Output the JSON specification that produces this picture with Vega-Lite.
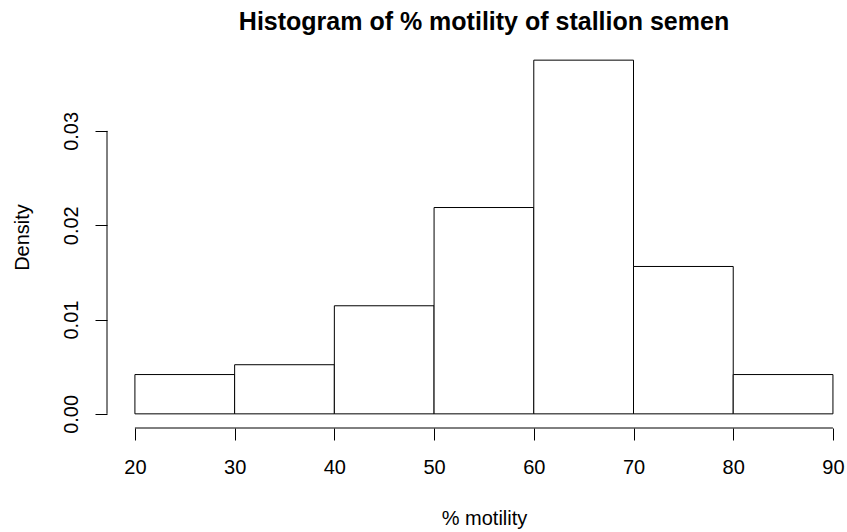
{
  "$schema": "https://vega.github.io/schema/vega-lite/v6.json",
  "width": 740,
  "height": 382,
  "autosize": "none",
  "padding": {"left": 107, "top": 46, "right": 0, "bottom": 104},
  "background": "white",
  "title": {
    "text": "Histogram of % motility of stallion semen",
    "font": "Liberation Sans",
    "fontSize": 25,
    "fontWeight": "bold",
    "color": "black",
    "anchor": "middle",
    "baseline": "alphabetic",
    "offset": -9,
    "dx": 7
  },
  "config": {
    "view": {"stroke": null},
    "font": "Liberation Sans",
    "axis": {"grid": false}
  },
  "layer": [
    {
      "data": {
        "values": [
          {"bin_start": 20, "bin_end": 30, "density": 0.0041667},
          {"bin_start": 30, "bin_end": 40, "density": 0.0052083},
          {"bin_start": 40, "bin_end": 50, "density": 0.0114583},
          {"bin_start": 50, "bin_end": 60, "density": 0.021875},
          {"bin_start": 60, "bin_end": 70, "density": 0.0375},
          {"bin_start": 70, "bin_end": 80, "density": 0.015625},
          {"bin_start": 80, "bin_end": 90, "density": 0.0041667}
        ]
      },
      "mark": {"type": "rect", "fill": "white", "stroke": "black", "strokeWidth": 1},
      "encoding": {
        "x": {
          "field": "bin_start",
          "type": "quantitative",
          "scale": {"domain": [17.2, 91.41], "nice": false, "zero": false},
          "axis": {
            "values": [20, 30, 40, 50, 60, 70, 80, 90],
            "domain": false,
            "tickSize": 12,
            "tickColor": "black",
            "tickWidth": 1,
            "labelFontSize": 20,
            "labelColor": "black",
            "labelBaseline": "alphabetic",
            "labelPadding": 33,
            "labelFlush": false,
            "labelOverlap": false,
            "title": "% motility",
            "titleFontSize": 20,
            "titleFontWeight": "normal",
            "titleColor": "black",
            "titleX": 377,
            "titleY": 96,
            "titleBaseline": "alphabetic",
            "titleAlign": "center"
          }
        },
        "x2": {"field": "bin_end"},
        "y": {
          "field": "density",
          "type": "quantitative",
          "scale": {"domain": [-0.0015, 0.039], "nice": false, "zero": false},
          "axis": {
            "values": [0, 0.01, 0.02, 0.03],
            "format": ".2f",
            "domain": false,
            "tickSize": 12,
            "tickColor": "black",
            "tickWidth": 1,
            "labelFontSize": 20,
            "labelColor": "black",
            "labelAngle": -90,
            "labelAlign": "center",
            "labelBaseline": "alphabetic",
            "labelPadding": 18,
            "labelFlush": false,
            "labelOverlap": false,
            "title": "Density",
            "titleFontSize": 20,
            "titleFontWeight": "normal",
            "titleColor": "black",
            "titleAngle": -90,
            "titleX": -79,
            "titleY": 191,
            "titleBaseline": "alphabetic",
            "titleAlign": "center"
          }
        },
        "y2": {"datum": 0}
      }
    },
    {
      "data": {"values": [{}]},
      "mark": {"type": "rule", "color": "black", "strokeWidth": 1},
      "encoding": {
        "x": {"datum": 20},
        "x2": {"datum": 90},
        "y": {"datum": -0.0015}
      }
    },
    {
      "data": {"values": [{}]},
      "mark": {"type": "rule", "color": "black", "strokeWidth": 1},
      "encoding": {
        "x": {"datum": 17.2},
        "y": {"datum": 0},
        "y2": {"datum": 0.03}
      }
    }
  ]
}
